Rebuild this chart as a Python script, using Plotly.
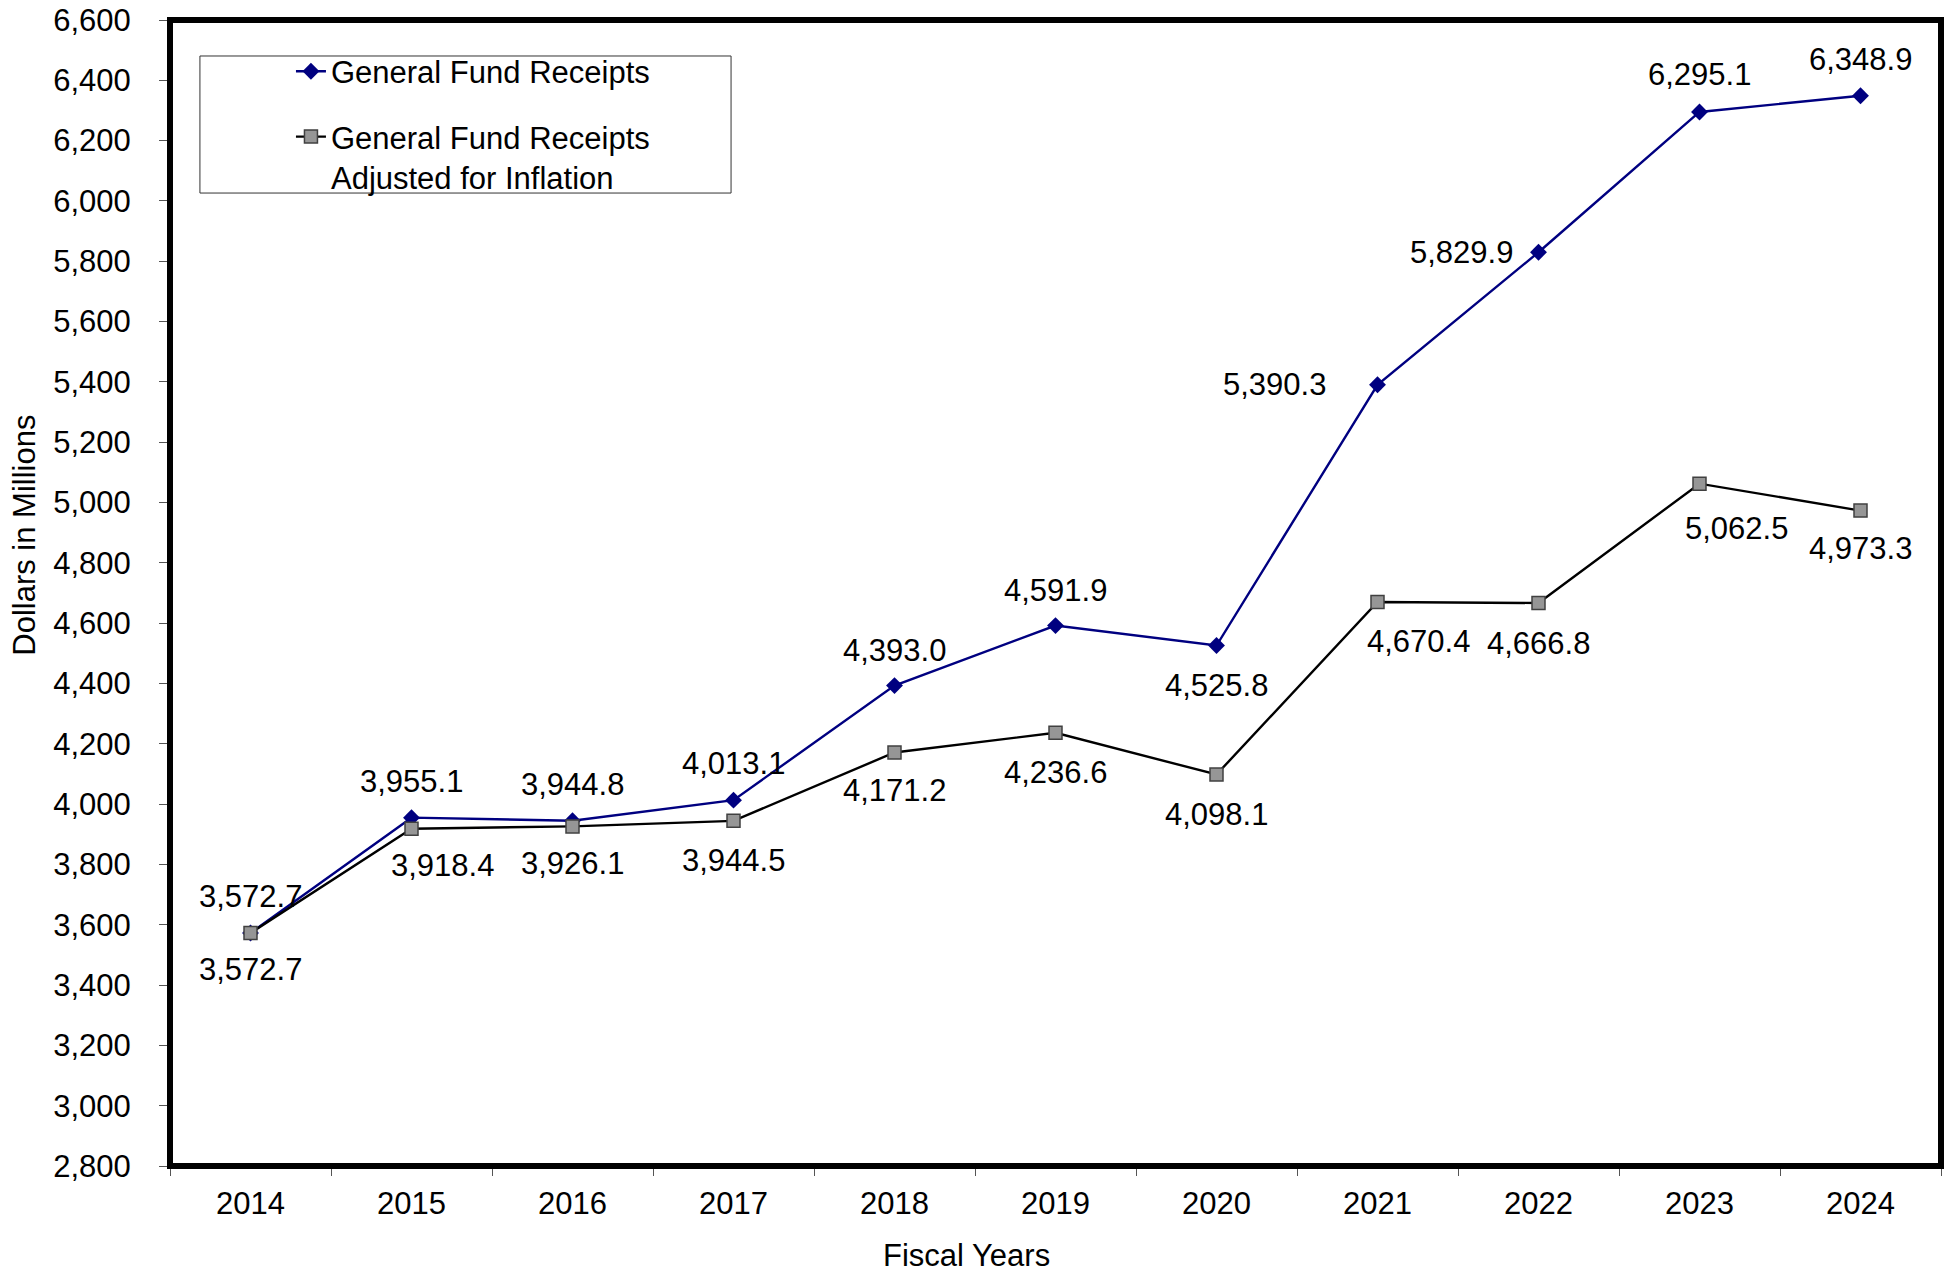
import plotly.graph_objects as go

# ---- data ----
years = [2014, 2015, 2016, 2017, 2018, 2019, 2020, 2021, 2022, 2023, 2024]
receipts = [3572.7, 3955.1, 3944.8, 4013.1, 4393.0, 4591.9, 4525.8, 5390.3, 5829.9, 6295.1, 6348.9]
adjusted = [3572.7, 3918.4, 3926.1, 3944.5, 4171.2, 4236.6, 4098.1, 4670.4, 4666.8, 5062.5, 4973.3]
y_ticks = [2800, 3000, 3200, 3400, 3600, 3800, 4000, 4200, 4400, 4600, 4800, 5000,
           5200, 5400, 5600, 5800, 6000, 6200, 6400, 6600]
name_receipts = "General Fund Receipts"
name_adjusted = "General Fund Receipts<br>Adjusted for Inflation"

# ---- label placement (pixel offsets from each point) ----
rec_dx = [0, 0, 0, 0, 0, 0, 0, -103, -77, 0, 0]
rec_dy = [36, 36, 36, 37, 35, 35, -40, 0, 0, 37, 36]
adj_dx = [0, 31, 0, 0, 0, 0, 0, 41, 0, 37, 0]
adj_dy = [-37, -37, -37, -40, -38, -40, -40, -40, -40, -45, -38]

FONT = "Liberation Sans, Arial, sans-serif"
FS = 31

fig = go.Figure()
fig.add_trace(go.Scatter(
    x=years, y=receipts, mode="lines+markers", name=name_receipts,
    legendgroup="a",
    line=dict(color="#000080", width=2.4),
    marker=dict(symbol="diamond", size=13, color="#000080",
                line=dict(color="#000080", width=0)),
))
fig.add_trace(go.Scatter(
    x=years, y=adjusted, mode="lines+markers", name=name_adjusted,
    legendgroup="b",
    line=dict(color="#000000", width=2.4),
    marker=dict(symbol="square", size=13, color="#969696",
                line=dict(color="#404040", width=1.5)),
))

annotations = []
for i, (yr, v) in enumerate(zip(years, receipts)):
    annotations.append(dict(x=yr, y=v, text=f"{v:,.1f}", showarrow=False,
                            xshift=rec_dx[i], yshift=rec_dy[i],
                            font=dict(family=FONT, size=FS, color="#000")))
for i, (yr, v) in enumerate(zip(years, adjusted)):
    annotations.append(dict(x=yr, y=v, text=f"{v:,.1f}", showarrow=False,
                            xshift=adj_dx[i], yshift=adj_dy[i],
                            font=dict(family=FONT, size=FS, color="#000")))

# axis titles
annotations.append(dict(xref="paper", yref="paper", x=-0.0826, y=0.5506,
                        text="Dollars in Millions", textangle=-90, showarrow=False,
                        xanchor="center", yanchor="middle",
                        font=dict(family=FONT, size=FS, color="#000")))
annotations.append(dict(xref="paper", yref="paper", x=0.4495, y=-0.0777,
                        text="Fiscal Years", showarrow=False,
                        xanchor="center", yanchor="middle",
                        font=dict(family=FONT, size=FS, color="#000")))

boundaries = [y - 0.5 for y in years] + [years[-1] + 0.5]

fig.update_layout(
    width=1944, height=1264,
    margin=dict(l=162, r=11, t=12, b=106),
    paper_bgcolor="white", plot_bgcolor="white",
    font=dict(family=FONT, size=FS, color="#000"),
    showlegend=True,
    legend=dict(
        x=0.0683, y=0.9785, xanchor="left", yanchor="top",
        bgcolor="rgba(0,0,0,0)", borderwidth=0,
        font=dict(family=FONT, size=FS, color="#000"),
        tracegroupgap=22, valign="top", itemclick=False,
    ),
    xaxis=dict(
        range=[years[0] - 0.5, years[-1] + 0.5],
        tickvals=years, ticktext=[str(y) for y in years],
        ticks="", showgrid=False, zeroline=False, showline=False,
        automargin=False, ticklabeloverflow="allow",
        ticklabelstandoff=16,
        minor=dict(tickvals=boundaries, ticks="outside", ticklen=9,
                   tickwidth=1, tickcolor="#555", showgrid=False),
        tickfont=dict(family=FONT, size=FS, color="#000"),
    ),
    yaxis=dict(
        range=[y_ticks[0], y_ticks[-1]],
        tickvals=y_ticks, tickformat=",",
        ticks="outside", ticklen=10, tickwidth=1, tickcolor="#555",
        showgrid=False, zeroline=False, showline=False,
        automargin=False, ticklabeloverflow="allow",
        ticklabelstandoff=22,
        tickfont=dict(family=FONT, size=FS, color="#000"),
    ),
    annotations=annotations,
    shapes=[
        dict(type="rect", xref="paper", yref="paper", x0=0, x1=1, y0=0, y1=1,
             line=dict(color="#000", width=6), layer="above"),
        dict(type="rect", xref="paper", yref="paper", x0=0.0169, x1=0.3168,
             y0=0.849, y1=0.9686, line=dict(color="#333", width=1),
             fillcolor="white", layer="below"),
    ],
)

fig.write_html("out.html")
